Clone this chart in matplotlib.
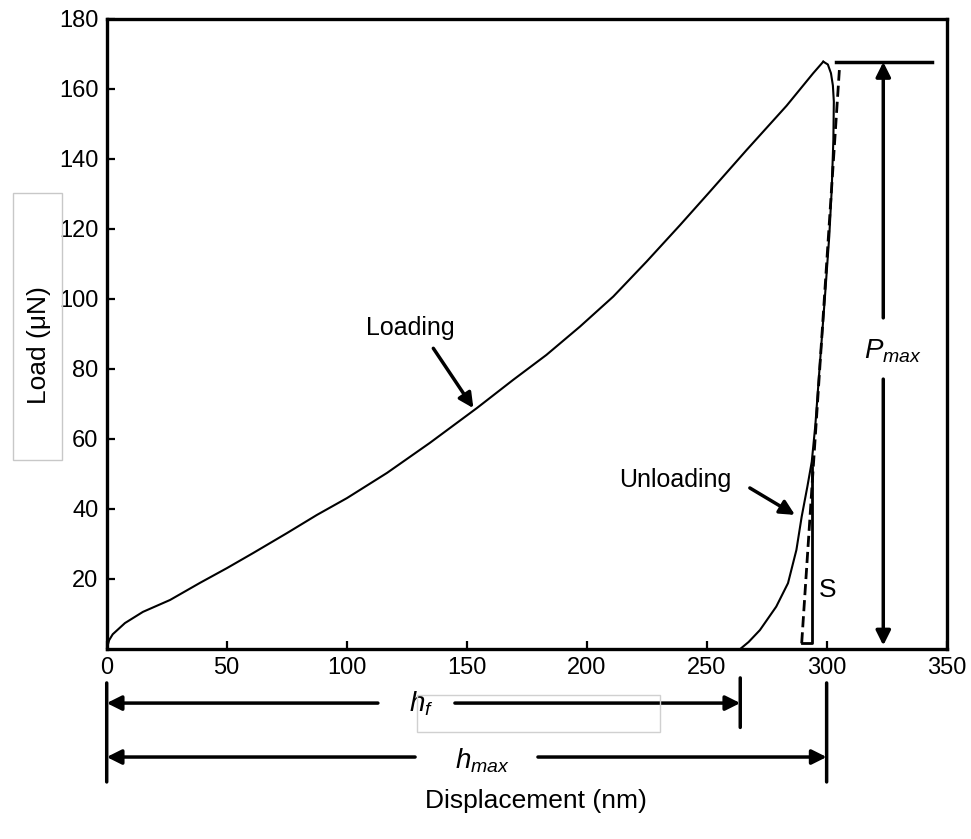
import matplotlib
matplotlib.use("Agg")
import matplotlib.pyplot as plt
from matplotlib.patches import Rectangle

plt.rcParams['font.family'] = ['Liberation Sans', 'DejaVu Sans']
plt.rcParams['mathtext.fontset'] = 'custom'
plt.rcParams['mathtext.rm'] = 'Liberation Sans'
plt.rcParams['mathtext.it'] = 'Liberation Sans:italic'

# courbe de charge (nm, uN)
loading_disp = [0, 1.0, 2.5, 7.6, 15.1, 26.4, 38.9, 50.1, 61.0, 75.1, 87.6, 100.1,
                116.8, 134.7, 154.2, 169.4, 183.2, 197.2, 211.1, 225.0, 238.9,
                251.0, 266.7, 283.3, 294.4, 298.6]
loading_load = [0, 2.5, 4.2, 7.4, 10.6, 14.0, 18.9, 23.1, 27.4, 33.1, 38.3, 43.1,
                50.3, 58.9, 68.8, 76.9, 84.0, 92.1, 100.7, 110.7, 121.1,
                130.4, 142.6, 155.2, 164.5, 167.8]

# courbe de decharge
unloading_disp = [298.6, 300.5, 301.8, 302.6, 303.0, 302.8, 302.1, 301.1, 299.3, 297.2,
                  295.3, 293.8, 292.0, 289.6, 287.4, 283.9, 279.0, 272.2, 267.5, 264.0]
unloading_load = [167.8, 167.0, 164.5, 161.0, 156.4, 145.4, 131.1, 118.0, 100.7, 81.6,
                  64.0, 53.5, 46.5, 37.8, 28.3, 18.8, 12.1, 5.4, 2.0, 0.0]

# tangente (raideur S)
tangent_disp = [289.6, 305.3]
tangent_load = [1.6, 165.4]
s_disp = [289.6, 293.8, 293.8]
s_load = [1.6, 1.6, 52.0]

p_max = 167.7
h_f = 264.0
h_max = 300.0

x_ticks = [0, 50, 100, 150, 200, 250, 300, 350]
y_ticks = [20, 40, 60, 80, 100, 120, 140, 160, 180]

fig = plt.figure(figsize=(9.71, 8.39), dpi=100)
ax = fig.add_axes([0.1099, 0.2265, 0.865, 0.7509])

ax.plot(loading_disp, loading_load, color='k', lw=1.5)
ax.plot(unloading_disp, unloading_load, color='k', lw=1.5)
ax.plot(tangent_disp, tangent_load, color='k', lw=2, linestyle=(0, (4, 1.8)))
ax.plot(s_disp, s_load, color='k', lw=2)

ax.set_xlim(0, 350)
ax.set_ylim(0, 180)
ax.set_xticks(x_ticks)
ax.set_yticks(y_ticks)
ax.tick_params(direction='in', length=6, width=1.6, labelsize=17, pad=6,
               top=False, right=False)
for sp in ax.spines.values():
    sp.set_linewidth(2.4)

arrow = dict(arrowstyle='-|>', color='k', lw=2.5, mutation_scale=22,
             shrinkA=0, shrinkB=0)

# annotations dans le graphe
ax.annotate('', xy=(152.8, 68.8), xytext=(136.1, 85.9), arrowprops=arrow)
ax.text(126.6, 89.7, 'Loading', fontsize=18, ha='center', va='baseline')
ax.annotate('', xy=(286.8, 38.3), xytext=(268.0, 46.0), arrowprops=arrow)
ax.text(236.8, 46.4, 'Unloading', fontsize=18, ha='center', va='baseline')
ax.text(300.5, 16.9, 'S', fontsize=19, ha='center', va='center')

# Pmax
ax.plot([303.8, 343.9], [p_max, p_max], color='k', lw=2.5, clip_on=False)
ax.annotate('', xy=(323.6, p_max), xytext=(323.6, 94.6), arrowprops=arrow)
ax.annotate('', xy=(323.6, 1.0), xytext=(323.6, 77.1), arrowprops=arrow)
ax.text(327.6, 85.0, '$P_{max}$', fontsize=20, ha='center', va='center')

# hf et hmax sous l'axe
xy_mix = ('data', 'figure fraction')
for xv, y0, y1 in [(0, 0.186, 0.068), (h_f, 0.192, 0.133), (h_max, 0.186, 0.068)]:
    ax.annotate('', xy=(xv, y1), xytext=(xv, y0), xycoords=xy_mix, textcoords=xy_mix,
                arrowprops=dict(arrowstyle='-', color='k', lw=2.5, shrinkA=0, shrinkB=0))

y_hf = 0.162
ax.annotate('', xy=(0, y_hf), xytext=(113.0, y_hf), xycoords=xy_mix, textcoords=xy_mix,
            arrowprops=arrow)
ax.annotate('', xy=(h_f, y_hf), xytext=(145.1, y_hf), xycoords=xy_mix, textcoords=xy_mix,
            arrowprops=arrow)
ax.annotate('$h_f$', xy=(131.0, 0.161), xycoords=xy_mix, fontsize=20,
            ha='center', va='center')

y_hmax = 0.0977
ax.annotate('', xy=(0, y_hmax), xytext=(128.5, y_hmax), xycoords=xy_mix, textcoords=xy_mix,
            arrowprops=arrow)
ax.annotate('', xy=(h_max, y_hmax), xytext=(179.7, y_hmax), xycoords=xy_mix, textcoords=xy_mix,
            arrowprops=arrow)
ax.annotate('$h_{max}$', xy=(156.4, 0.093), xycoords=xy_mix, fontsize=20,
            ha='center', va='center')

fig.text(0.552, 0.0455, 'Displacement (nm)', fontsize=19, ha='center', va='center')
fig.text(0.040, 0.589, 'Load (μN)', fontsize=19, ha='center', va='center', rotation=90)

# cadres gris clairs
fig.patches.append(Rectangle((0.0131, 0.4517), 0.0505, 0.3183, transform=fig.transFigure,
                             fill=False, edgecolor='#c8c8c8', lw=1))
fig.patches.append(Rectangle((0.4295, 0.1275), 0.2503, 0.0441, transform=fig.transFigure,
                             fill=False, edgecolor='#d0d0d0', lw=1))

fig.savefig('out.png', dpi=100)
